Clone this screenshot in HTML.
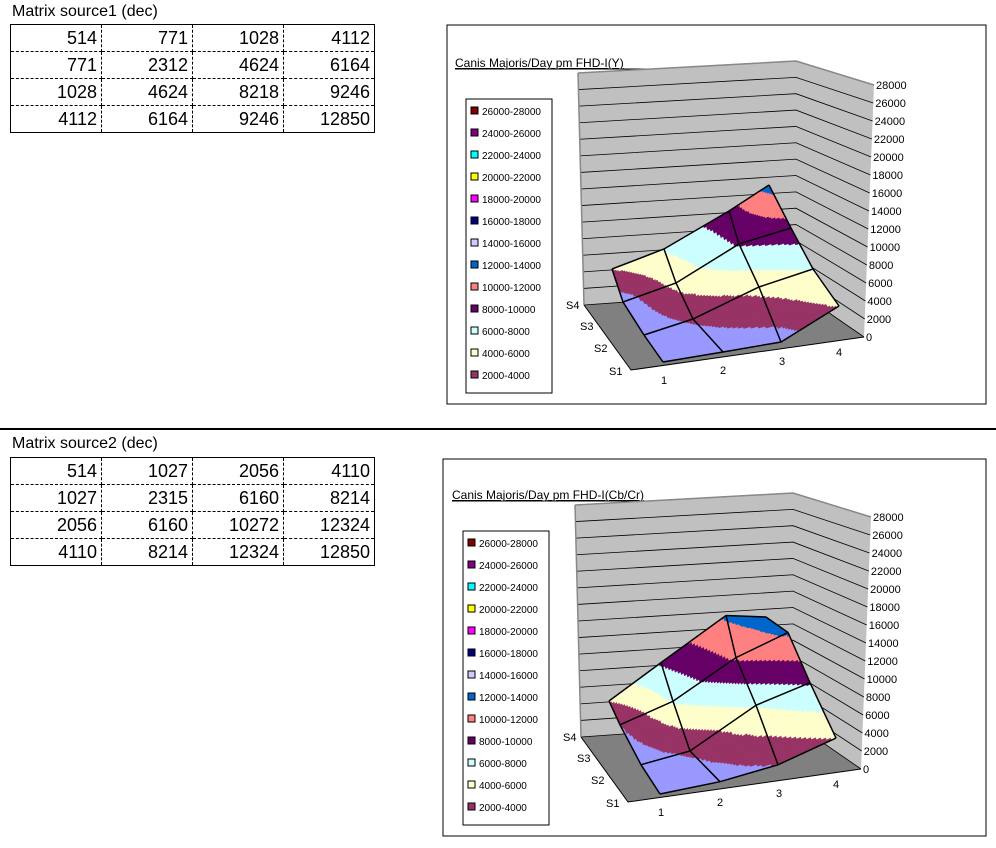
<!DOCTYPE html>
<html><head><meta charset="utf-8"><style>
body{margin:0;background:#fff;width:996px;height:848px;overflow:hidden;position:relative;font-family:"Liberation Sans","Noto Sans CJK JP",sans-serif}
.t{position:absolute;font-size:16px;color:#000}
table{position:absolute;border-collapse:collapse;border:1px solid #000}
td{width:91px;height:26px;padding:0 4px 0 0;text-align:right;font-size:18px;border:1px dashed #000;box-sizing:border-box;line-height:26px}
.sep{position:absolute;left:0;top:428px;width:996px;height:2px;background:#000}
svg{position:absolute;left:0;top:0}
</style></head><body>
<div class="t" style="left:12px;top:3px">Matrix source1 (dec)</div>
<table style="left:10px;top:24px">
<tr><td>514</td><td>771</td><td>1028</td><td>4112</td></tr>
<tr><td>771</td><td>2312</td><td>4624</td><td>6164</td></tr>
<tr><td>1028</td><td>4624</td><td>8218</td><td>9246</td></tr>
<tr><td>4112</td><td>6164</td><td>9246</td><td>12850</td></tr></table>
<div class="sep"></div>
<div class="t" style="left:12px;top:435px">Matrix source2 (dec)</div>
<table style="left:10px;top:457px">
<tr><td>514</td><td>1027</td><td>2056</td><td>4110</td></tr>
<tr><td>1027</td><td>2315</td><td>6160</td><td>8214</td></tr>
<tr><td>2056</td><td>6160</td><td>10272</td><td>12324</td></tr>
<tr><td>4110</td><td>8214</td><td>12324</td><td>12850</td></tr></table>
<svg id="s" width="996" height="848" xmlns="http://www.w3.org/2000/svg" font-family="Liberation Sans, sans-serif"></svg>
<script>
var S=document.getElementById('s'),h='';
var cols=['#9999FF','#993366','#FFFFCC','#CCFFFF','#660066','#FF8080','#0066CC','#CCCCFF','#000080','#FF00FF','#FFFF00','#00FFFF','#800080','#800000'];
var names=['26000-28000','24000-26000','22000-24000','20000-22000','18000-20000','16000-18000','14000-16000','12000-14000','10000-12000','8000-10000','6000-8000','4000-6000','2000-4000'];
var k=0.00895;
var P1=[[[663,362],[723,352],[781,342],[839,306]],[[644,335],[693,319],[759,287],[813,269]],[[623,302],[676,283],[739,244],[791,228]],[[612,269],[664,249],[729,211],[769,185]]];
var V1=[[514,771,1028,4112],[771,2312,4624,6164],[1028,4624,8218,9246],[4112,6164,9246,12850]];
var V2=[[514,1027,2056,4110],[1027,2315,6160,8214],[2056,6160,10272,12324],[4110,8214,12324,12850]];
var B=P1.map(function(r,i){return r.map(function(p,j){return [p[0],p[1]+V1[i][j]*k]})});
function chart(dx,dy,bx,by,bw,bh,title,V){
 h+='<rect x="'+bx+'" y="'+by+'" width="'+bw+'" height="'+bh+'" fill="#fff" stroke="#000"/>';
 h+='<text x="'+(dx+455)+'" y="'+(dy+67)+'" font-size="12" text-decoration="underline">'+title+'</text>';
 h+='<line x1="'+(dx+455)+'" y1="'+(dy+69)+'" x2="'+(dx+663)+'" y2="'+(dy+69)+'" stroke="#000"/>';
 function P(x,y){return (x+dx)+','+(y+dy)}
 h+='<polygon points="'+P(578,73)+' '+P(796,61)+' '+P(796,290)+' '+P(584,305)+'" fill="#c0c0c0"/>';
 h+='<polygon points="'+P(796,61)+' '+P(874,85)+' '+P(864,337)+' '+P(796,290)+'" fill="#c0c0c0"/>';
 h+='<polygon points="'+P(584,305)+' '+P(796,290)+' '+P(864,337)+' '+P(631,370)+'" fill="#808080"/>';
 for(var g=0;g<=14;g++){var t=g/14;
  var ly=73+(305-73)*t,cy=61+(290-61)*t,rx=874-10*t,ry=85+(337-85)*t;
  h+='<polyline points="'+P(578+6*t,ly)+' '+P(796,cy)+' '+P(rx,ry)+'" fill="none" stroke="#000" stroke-width="0.8"/>';
  h+='<text x="'+(dx+rx+2)+'" y="'+(dy+ry+4)+'" font-size="11">'+(28000-2000*g)+'</text>';}
 h+='<polyline points="'+P(578,73)+' '+P(796,61)+' '+P(874,85)+'" fill="none" stroke="#888" stroke-width="1.5"/>';
 h+='<line x1="'+(dx+578)+'" y1="'+(dy+73)+'" x2="'+(dx+584)+'" y2="'+(dy+305)+'" stroke="#888" stroke-width="1.5"/>';
 h+='<polyline points="'+P(584,305)+' '+P(631,370)+' '+P(864,337)+'" fill="none" stroke="#000"/>';
 [['S4',566,309],['S3',580,330],['S2',594,352],['S1',609,375]].forEach(function(a){h+='<text x="'+(dx+a[1])+'" y="'+(dy+a[2])+'" font-size="11">'+a[0]+'</text>'});
 [['1',661,384],['2',720,374],['3',779,365],['4',836,356]].forEach(function(a){h+='<text x="'+(dx+a[1])+'" y="'+(dy+a[2])+'" font-size="11">'+a[0]+'</text>'});
 function node(i,j){var b=B[i][j];return [b[0]+dx,b[1]+dy-V[i][j]*k,V[i][j]]}
 var N=28;
 for(var i=3;i>=1;i--)for(var j=0;j<3;j++){
  var a=node(i,j),b=node(i,j+1),c=node(i-1,j),d=node(i-1,j+1);
  function L(u,v){var r=[];for(var m=0;m<3;m++){r[m]=(1-u)*(1-v)*a[m]+u*(1-v)*b[m]+(1-u)*v*c[m]+u*v*d[m]}return r}
  for(var p=0;p<N;p++)for(var q=0;q<N;q++){
   var p1=L(q/N,p/N),p2=L((q+1)/N,p/N),p3=L((q+1)/N,(p+1)/N),p4=L(q/N,(p+1)/N);
   var v=(p1[2]+p2[2]+p3[2]+p4[2])/4,ci=Math.min(13,Math.floor(v/2000));
   h+='<polygon points="'+[p1,p2,p3,p4].map(function(z){return z[0].toFixed(1)+','+z[1].toFixed(1)}).join(' ')+'" fill="'+cols[ci]+'" stroke="'+cols[ci]+'" stroke-width="0.5"/>';}
 }
 for(var i=0;i<4;i++){var s='',s2='';for(var j=0;j<4;j++){var n=node(i,j);s+=n[0]+','+n[1]+' ';var m=node(j,i);s2+=m[0]+','+m[1]+' ';}
  h+='<polyline points="'+s+'" fill="none" stroke="#000" stroke-width="1.5"/><polyline points="'+s2+'" fill="none" stroke="#000" stroke-width="1.5"/>';}
 var lx=dx+466,ly=dy+99;
 h+='<rect x="'+lx+'" y="'+ly+'" width="86" height="294" fill="#fff" stroke="#000"/>';
 for(var e=0;e<13;e++){var y=ly+13+e*22,c=cols[13-e];
  h+='<rect x="'+(lx+5)+'" y="'+(y-5)+'" width="7" height="7" fill="'+c+'" stroke="#000"/>';
  h+='<text x="'+(lx+16)+'" y="'+(y+3)+'" font-size="10">'+names[e]+'</text>';}
}
chart(0,0,447,25,539,379,'Canis Majoris/Day pm FHD-I(Y)',V1);
chart(-3,432,443,459,543,377,'Canis Majoris/Day pm FHD-I(Cb/Cr)',V2);
S.innerHTML=h;
</script>
</body></html>
